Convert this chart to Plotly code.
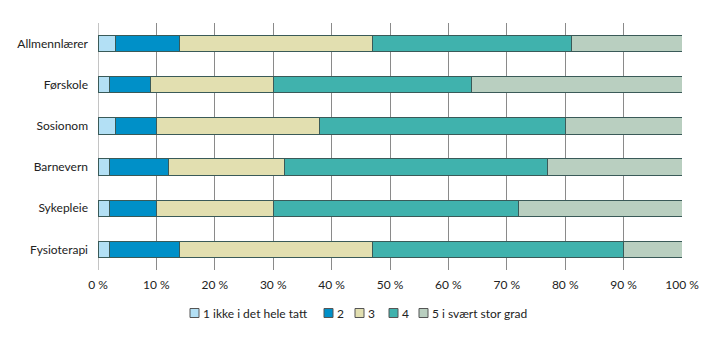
import plotly.graph_objects as go

categories = ["Allmennlærer", "Førskole", "Sosionom", "Barnevern", "Sykepleie", "Fysioterapi"]
series_names = ["1 ikke i det hele tatt", "2", "3", "4", "5 i svært stor grad"]
s1 = [3, 2, 3, 2, 2, 2]
s2 = [11, 7, 7, 10, 8, 12]
s3 = [33, 21, 28, 20, 20, 33]
s4 = [34, 34, 42, 45, 42, 43]
s5 = [19, 36, 20, 23, 28, 10]
colors = ["#b3e0f5", "#0090c8", "#e2dfb0", "#40b2ad", "#b9cfc0"]
tick_vals = [0, 10, 20, 30, 40, 50, 60, 70, 80, 90, 100]
tick_text = [f"{v} %" for v in tick_vals]

W, H = 719, 341
L, R, T, B = 98, 37, 23, 71
pw, ph = W - L - R, H - T - B

fig = go.Figure()
for name, vals, col in zip(series_names, [s1, s2, s3, s4, s5], colors):
    fig.add_trace(go.Bar(
        y=categories, x=vals, name=name, orientation="h",
        marker=dict(color=col, line=dict(color="#3a5a58", width=1)),
        hoverinfo="x+y", showlegend=False,
    ))

# manual legend (compact, like the reference)
legend_px = [190, 324, 355, 389, 419]
legend_py = 313
for name, col, px in zip(series_names, colors, legend_px):
    x0 = (px - L) / pw
    x1 = (px + 9 - L) / pw
    y0 = (H - B - (legend_py + 4.5)) / ph
    y1 = (H - B - (legend_py - 4.5)) / ph
    fig.add_shape(type="rect", xref="paper", yref="paper", x0=x0, x1=x1, y0=y0, y1=y1,
                  fillcolor=col, line=dict(color="#555", width=1))
    fig.add_annotation(xref="paper", yref="paper", x=(px + 11 - L) / pw,
                       y=(H - B - legend_py) / ph, text=name, showarrow=False,
                       xanchor="left", yanchor="middle", font=dict(size=12, color="#222"))

fig.update_layout(
    barmode="stack",
    bargap=0.6,
    width=W, height=H,
    margin=dict(l=L, r=R, t=T, b=B),
    plot_bgcolor="white", paper_bgcolor="white",
    font=dict(family="Lato, sans-serif", size=12, color="#222"),
    showlegend=False,
    xaxis=dict(range=[0, 100], tickvals=tick_vals, ticktext=tick_text,
               showgrid=True, gridcolor="#8a8a8a", gridwidth=1,
               zeroline=False, showline=False, ticks="", ticklen=0,
               ticklabelstandoff=6, fixedrange=True),
    yaxis=dict(categoryorder="array", categoryarray=categories, autorange="reversed",
               showgrid=False, ticks="", ticklabelstandoff=9, showline=False),
)
fig.add_shape(type="line", xref="x", yref="paper", x0=0, x1=0, y0=0, y1=1,
              line=dict(color="#c4c4c4", width=2), layer="below")
fig.write_html("out.html")
